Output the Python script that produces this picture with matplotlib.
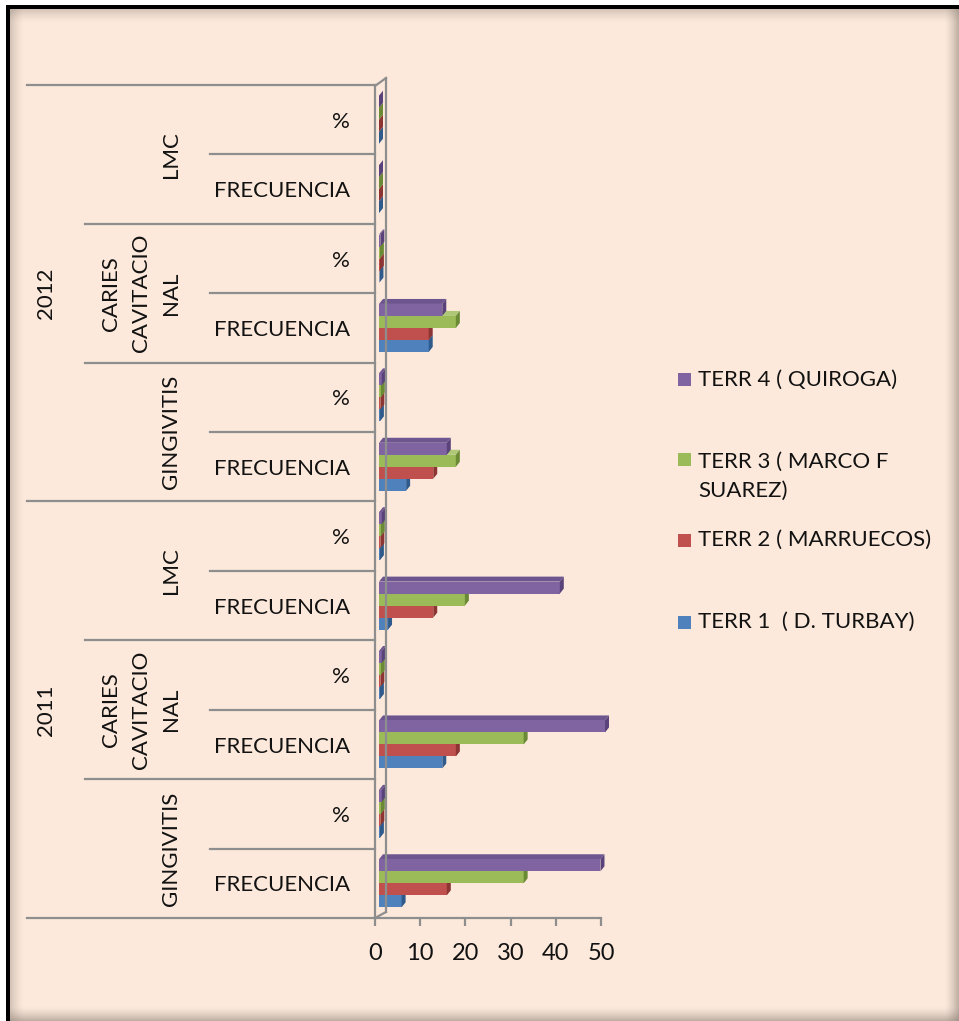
import numpy as np
import matplotlib
matplotlib.use("Agg")
import matplotlib.pyplot as plt
from matplotlib.patches import Polygon, Rectangle
from matplotlib.lines import Line2D
from matplotlib.transforms import blended_transform_factory, ScaledTranslation

plt.rcParams['font.family'] = ['Lato', 'DejaVu Sans']

# ---------------- data ----------------
years = ['2011', '2012']
diseases = ['GINGIVITIS', 'CARIES\nCAVITACIO\nNAL', 'LMC']
measures = ['FRECUENCIA', '%']
categories = [m for y in years for d in diseases for m in measures]  # bottom -> top

series_names = ['TERR 1  ( D. TURBAY)', 'TERR 2 ( MARRUECOS)',
                'TERR 3 ( MARCO F\nSUAREZ)', 'TERR 4 ( QUIROGA)']
terr1 = [5, 0.2, 14, 0.2, 2, 0.2, 6, 0.2, 11, 0.1, 0, 0]
terr2 = [15, 0.3, 17, 0.3, 12, 0.3, 12, 0.3, 11, 0.2, 0, 0]
terr3 = [32, 0.4, 32, 0.4, 19, 0.4, 17, 0.4, 17, 0.2, 0, 0]
terr4 = [49, 0.6, 50, 0.6, 40, 0.6, 15, 0.6, 14, 0.3, 0, 0]
series = [terr1, terr2, terr3, terr4]

front_colors = ['#4F81BD', '#C0504D', '#9BBB59', '#8064A2']
side_colors = ['#2F5A8C', '#8C3533', '#6B8A35', '#5A437A']
top_colors = ['#6E97CA', '#CC6C69', '#AEC878', '#6D5590']
x_ticks = [0, 10, 20, 30, 40, 50]

W, H = 959, 1021
BG = np.array([252, 233, 219]) / 255.0
TXT = '#121212'
GRID = '#8e8e8e'
FS = 16

fig = plt.figure(figsize=(W / 100, H / 100), dpi=100)

# ---------------- background with frame / shadow ----------------
img = np.ones((H, W, 3)) * BG
shade = np.array([0.55, 0.50, 0.46])
for d in range(14):
    a = 0.35 * (1 - d / 14) ** 1.5
    img[10 + d, 10:] = img[10 + d, 10:] * (1 - a) + shade * a
    img[10:, 10 + d] = img[10:, 10 + d] * (1 - a) + shade * a
for x in range(944, W):
    t = ((x - 944) / (W - 944)) ** 1.4
    img[:, x] = img[:, x] * (1 - 0.6 * t) + shade * 0.6 * t
for y in range(1006, H):
    t = ((y - 1006) / (H - 1006)) ** 1.4
    img[y, :] = img[y, :] * (1 - 0.6 * t) + shade * 0.6 * t
img[:6, :] = 1.0
img[:, :6] = 1.0
img[6:10, 6:] = 0.0
img[6:, 6:10] = 0.0
bgax = fig.add_axes([0, 0, 1, 1], zorder=-10)
bgax.imshow(img, aspect='auto', interpolation='nearest')
bgax.axis('off')

# ---------------- main axes ----------------
x0, x50, ytop, ybot = 375, 601, 85, 918
ax = fig.add_axes([x0 / W, 1 - ybot / H, (x50 - x0) / W, (ybot - ytop) / H])
ax.set_facecolor('none')
ax.set_xlim(0, 50)
ax.set_ylim(-0.5, len(categories) - 0.5)
for s in ['top', 'right']:
    ax.spines[s].set_visible(False)
for s in ['left', 'bottom']:
    ax.spines[s].set_color(GRID)
    ax.spines[s].set_linewidth(1.6)
ax.set_xticks(x_ticks)
ax.set_xticklabels([str(t) for t in x_ticks], fontsize=17, color=TXT)
ax.tick_params(axis='x', length=6, width=1.6, color=GRID, pad=12)
ax.set_yticks([])

# bars with pseudo 3D (front shifted 4px right)
off = ax.transData + ScaledTranslation(0.04, 0, fig.dpi_scale_trans)
h = 0.173
px_x = 50 / (x50 - x0)          # data units per pixel in x
px_y = (len(categories)) / (ybot - ytop)
dx, dy = 4 * px_x, 5 * px_y
ypos = np.arange(len(categories))
for k, vals in enumerate(series):
    yc = ypos + (k - 1.5) * h
    ax.barh(yc, vals, height=h, color=front_colors[k], transform=off,
            zorder=3 + k, clip_on=False, linewidth=0)
    for v, c in zip(vals, yc):
        y0, y1 = c - h / 2, c + h / 2
        side = Polygon([(v, y0), (v + dx, y0 + dy), (v + dx, y1 + dy), (v, y1)],
                       closed=True, facecolor=side_colors[k], edgecolor='none',
                       transform=off, zorder=3 + k, clip_on=False)
        top = Polygon([(0, y1), (v, y1), (v + dx, y1 + dy), (dx, y1 + dy)],
                      closed=True, facecolor=top_colors[k], edgecolor='none',
                      transform=off, zorder=2.9 + k, clip_on=False)
        ax.add_patch(top)
        ax.add_patch(side)

# 3D back wall lines
def P(x, y):
    return (x / W, 1 - y / H)
for (a, b) in [((375, 86), (386, 78)), ((386, 78), (386, 912)), ((375, 918), (386, 912))]:
    fig.add_artist(Line2D([P(*a)[0], P(*b)[0]], [P(*a)[1], P(*b)[1]],
                          color=GRID, lw=1.6, zorder=1))

# ---------------- multi-level category labels ----------------
bt = blended_transform_factory(fig.transFigure, ax.transData)
n = len(categories)
for i in range(n + 1):
    b = i - 0.5
    if i % 6 == 0:
        xs = 27
    elif i % 2 == 0:
        xs = 85
    else:
        xs = 210
    ax.plot([xs / W, x0 / W], [b, b], transform=bt, color=GRID, lw=1.6,
            clip_on=False, zorder=1)

for i, lab in enumerate(categories):
    ax.text(350 / W, i - 0.03, lab, transform=bt, ha='right', va='center',
            fontsize=FS, color=TXT)

for yi, yr in enumerate(years):
    for di, d in enumerate(diseases):
        c = yi * 6 + di * 2 + 0.5
        ax.text(181 / W, c, d, transform=bt, rotation=90, ha='right', va='center',
                multialignment='center', fontsize=FS, color=TXT, linespacing=1.62)
    ax.text(46 / W, yi * 6 + 2.5, yr, transform=bt, rotation=90, ha='center',
            va='center', fontsize=FS, color=TXT)

# ---------------- legend ----------------
leg_y = [622, 540, 476, 380]
for k in range(4):
    yy = leg_y[k] if k != 2 else 460
    fig.add_artist(Rectangle(P(678, yy + 6.5), 13 / W, 13 / H, transform=fig.transFigure,
                             facecolor=front_colors[k], edgecolor='none'))
    fig.text(698 / W, 1 - leg_y[k] / H, series_names[k], ha='left', va='center',
             fontsize=FS, color=TXT, linespacing=1.58)

fig.savefig('out.png', dpi=100, facecolor=fig.get_facecolor())
